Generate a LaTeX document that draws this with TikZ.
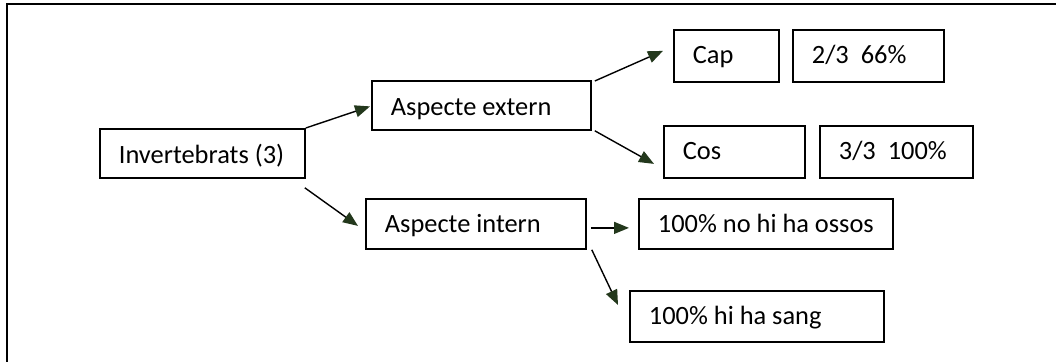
\documentclass[tikz,border=0pt]{standalone}
\usepackage{fontspec}
\setmainfont{Carlito}
\usetikzlibrary{arrows.meta,calc}
\definecolor{arrowgreen}{HTML}{23381C}
\newcommand{\lbl}[2]{\makebox[#1][l]{#2}}

\begin{document}
\begin{tikzpicture}[x=0.5pt, y=-0.5pt,
  every node/.style={font=\fontsize{13.2}{15}\selectfont},
  box/.style={draw, line width=0.9pt, anchor=north west, inner xsep=9.5pt,
              inner ysep=0pt, minimum height=25pt, text height=11pt, text depth=2pt},
  arr/.style={line width=0.7pt, -{Triangle[length=7.5pt,width=6pt,color=arrowgreen]}}]

  \useasboundingbox (0,0) rectangle (1056,362);

  % ---- Frame (cut at right and bottom) ----
  \draw[line width=1.1pt] (7,362) -- (7,4) -- (1056,4);

  % ---- Root ----
  \node[box, minimum height=24.5pt, text depth=0.5pt] (inv) at (99,128) {\lbl{83.5pt}{Invertebrats (3)}};

  % ---- Second level ----
  \node[box, minimum height=24.5pt, text depth=0.5pt] (ext) at (371,80)  {\lbl{90.5pt}{Aspecte extern}};
  \node[box] (int) at (365,198) {\lbl{91pt}{Aspecte intern}};

  % ---- Extern: parts and counts ----
  \node[box, minimum height=26pt, text depth=3pt] (cap)  at (673,29)  {\lbl{33.5pt}{Cap}};
  \node[box, minimum height=26pt, text depth=3pt] (capv) at (792,29)  {\lbl{56.5pt}{2/3\ \ 66\%}};
  \node[box, minimum height=26pt, text depth=3pt] (cos)  at (663,125) {\lbl{51.5pt}{Cos}};
  \node[box, minimum height=26pt, text depth=3pt] (cosv) at (819,125) {\lbl{57.5pt}{3/3\ \ 100\%}};

  % ---- Intern: results ----
  \node[box] (oss)  at (638,198) {\lbl{108pt}{100\% no hi ha ossos}};
  \node[box, minimum height=25.5pt, text depth=3pt] (sang) at (629,290) {\lbl{108pt}{100\% hi ha sang}};

  % ---- Arrows ----
  \draw[arr] (inv.north east) -- ($(ext.west)+(-1,1)$);
  \draw[arr] ($(inv.south east)+(-1,9)$) -- ($(int.west)+(-7,2)$);
  \draw[arr] ($(ext.north east)+(3,1)$) -- ($(cap.west)+(-10,-5)$);
  \draw[arr] ($(ext.south east)+(3,0)$) -- ($(cos.west)+(-9,12)$);
  \draw[arr] ($(int.east)+(4,4)$) -- ($(oss.west)+(-9,4)$);
  \draw[arr] ($(int.south east)+(5,0)$) -- ($(sang.north west)+(-11,15)$);
\end{tikzpicture}
\end{document}
